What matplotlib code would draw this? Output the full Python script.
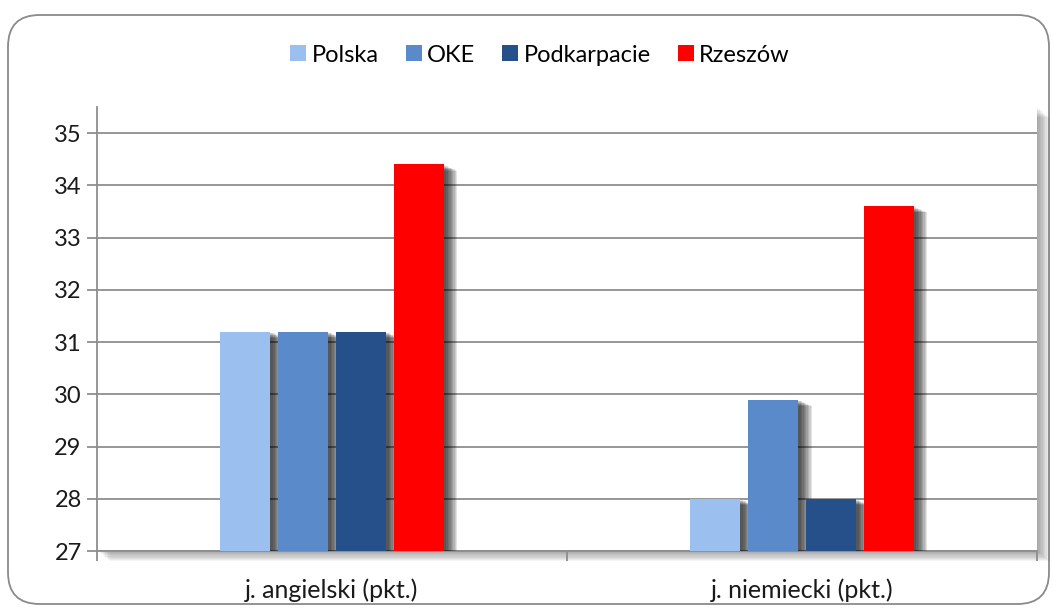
import matplotlib
matplotlib.use("Agg")
import matplotlib.pyplot as plt
import matplotlib.patheffects as pe
from matplotlib.patches import FancyBboxPatch, Patch
import numpy as np

categories = ["j. angielski (pkt.)", "j. niemiecki (pkt.)"]
series_names = ["Polska", "OKE", "Podkarpacie", "Rzeszów"]
polska = [31.2, 28.0]
oke = [31.2, 29.9]
podkarpacie = [31.2, 28.0]
rzeszow = [34.4, 33.6]
y_ticks = [27, 28, 29, 30, 31, 32, 33, 34, 35]

colors = ["#9BBFEF", "#5A8ACA", "#26508A", "#FF0000"]
values = [polska, oke, podkarpacie, rzeszow]

plt.rcParams['font.family'] = ['Lato', 'DejaVu Sans']
W, H = 1053, 612
fig = plt.figure(figsize=(W / 100, H / 100), dpi=100)

# outer rounded border
border = FancyBboxPatch((8 / W, 1 - 604 / H), (1049 - 8) / W, (604 - 15) / H,
                        boxstyle="round,pad=0,rounding_size=0.03",
                        transform=fig.transFigure, facecolor="none",
                        edgecolor="#8A8A8A", linewidth=1.3, mutation_aspect=W / H,
                        zorder=-10)
fig.patches.append(border)

L, R, T, B = 97, 1037, 107, 551
ax = fig.add_axes([L / W, 1 - B / H, (R - L) / W, (B - T) / H])
ax.patch.set_path_effects(
    [pe.SimplePatchShadow(offset=(k, -k * 0.8), shadow_rgbFace="black", alpha=0.045)
     for k in range(9, 0, -1)] + [pe.Normal()])

x = np.arange(len(categories))
width = 0.1064
pitch = 0.1228
shadow = [pe.SimplePatchShadow(offset=(o, -o * 0.45), shadow_rgbFace="black", alpha=0.11)
          for o in (10, 9, 8, 7, 6, 5, 4, 3, 2)] + [pe.Normal()]
for i, (vals, c, name) in enumerate(zip(values, colors, series_names)):
    offs = (i - 1.5) * pitch
    bars = ax.bar(x + offs, np.array(vals) - 27, width=width, bottom=27, color=c,
                  label=name, zorder=3)
    for b in bars:
        b.set_path_effects(shadow)

FS = 17
ax.set_xlim(-0.5, 1.5)
ax.set_ylim(27, 35.5)
ax.set_yticks(y_ticks)
ax.set_yticklabels([str(t) for t in y_ticks], fontsize=FS, color="#1a1a1a")
ax.yaxis.grid(True, color="#8E8E8E", linewidth=1.3, zorder=0)
ax.set_axisbelow(True)

ax.set_xticks(x)
ax.set_xticklabels(categories, fontsize=18, color="#1a1a1a")
ax.set_xticks([-0.5, 0.5, 1.5], minor=True)
ax.tick_params(axis="x", which="major", length=0, pad=20)
ax.tick_params(axis="x", which="minor", length=7, width=1.3, color="#8E8E8E")
ax.tick_params(axis="y", length=7, width=1.3, color="#8E8E8E", pad=4)

for s in ["top", "right"]:
    ax.spines[s].set_visible(False)
for s in ["left", "bottom"]:
    ax.spines[s].set_color("#8E8E8E")
    ax.spines[s].set_linewidth(1.3)

handles = [Patch(facecolor=c, edgecolor="none") for c in colors]
fig.legend(handles, series_names, loc="center", bbox_to_anchor=(540 / W, 1 - 55 / H),
           ncol=4, frameon=False, fontsize=FS, handlelength=0.68, handleheight=0.68,
           handletextpad=0.22, columnspacing=1.15)

fig.savefig("out.png", dpi=100)
